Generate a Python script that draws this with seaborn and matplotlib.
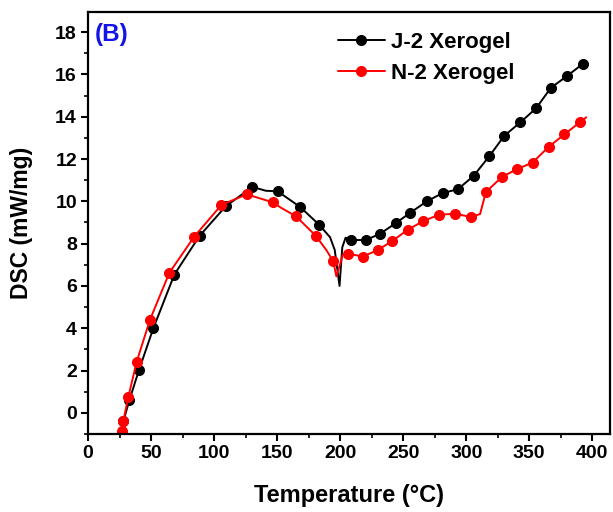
import matplotlib
matplotlib.use("Agg")
import matplotlib.pyplot as plt
import seaborn as sns
import pandas as pd
from matplotlib.ticker import MultipleLocator

# ---- data ----
j2_temp = [26, 28, 32.8, 40.5, 51.8, 68.5, 88.5, 109.3, 130.4, 141, 150.5, 168.3, 183.2,
           192, 195.7, 197.5, 199.5, 201.7, 204.3, 208.7, 220.4, 231.7, 244.2, 255.6,
           268.8, 281.2, 293.4, 305.8, 318.3, 330.2, 342.9, 355.3, 367.2, 379.9, 392.3]
j2_dsc = [-1.1, -0.4, 0.6, 2.04, 4.0, 6.54, 8.37, 9.77, 10.68, 10.5, 10.47, 9.73, 8.9,
          8.3, 7.7, 6.9, 6.0, 7.83, 8.28, 8.17, 8.17, 8.47, 8.97, 9.46,
          10.0, 10.39, 10.57, 11.2, 12.13, 13.1, 13.73, 14.39, 15.37, 15.92, 16.49]
j2_marks = [1, 2, 3, 4, 5, 6, 7, 8, 10, 11, 12, 19, 20, 21, 22, 23, 24, 25, 26,
            27, 28, 29, 30, 31, 32, 33, 34]

n2_temp = [25.5, 26.7, 28, 32, 38.6, 49.2, 64.5, 84, 105.8, 126, 146.6, 153, 165, 180.7,
           189, 194.5, 197, 199.3, 202, 206.6, 218, 229.9, 241.5, 253.7, 266.1, 278.6,
           291.3, 303.7, 311, 315.6, 328.3, 340.2, 352.6, 365.3, 377.8, 390, 395.2]
n2_dsc = [-1.1, -0.85, -0.38, 0.76, 2.42, 4.41, 6.62, 8.31, 9.83, 10.33, 9.95, 9.7, 9.29, 8.37,
          7.7, 7.17, 6.45, 6.9, 7.45, 7.52, 7.39, 7.7, 8.13, 8.66, 9.07, 9.37,
          9.41, 9.26, 9.4, 10.44, 11.15, 11.52, 11.83, 12.57, 13.16, 13.73, 13.97]
n2_marks = [1, 2, 3, 4, 5, 6, 7, 8, 9, 10, 12, 13, 15, 19, 20, 21, 22, 23, 24, 25,
            26, 27, 29, 30, 31, 32, 33, 34, 35]

series_names = ["J-2 Xerogel", "N-2 Xerogel"]
x_ticks = [0, 50, 100, 150, 200, 250, 300, 350, 400]
y_ticks = [0, 2, 4, 6, 8, 10, 12, 14, 16, 18]
panel_label = "(B)"

# ---- style ----
sns.set_theme(style="ticks")
plt.rcParams["font.family"] = ["Liberation Sans", "DejaVu Sans"]
plt.rcParams["font.weight"] = "bold"
for key in ["text.color", "axes.labelcolor", "xtick.color", "ytick.color", "axes.edgecolor"]:
    plt.rcParams[key] = "black"

fig = plt.figure(figsize=(6.13, 5.12), dpi=100)
ax = fig.add_axes([0.1436, 0.1523, 0.8514, 0.8243])

df_j = pd.DataFrame({"Temperature": j2_temp, "DSC": j2_dsc})
df_n = pd.DataFrame({"Temperature": n2_temp, "DSC": n2_dsc})

sns.lineplot(data=df_j, x="Temperature", y="DSC", ax=ax, color="black", lw=1.4,
             marker="o", markersize=7.2, markeredgecolor="black", markevery=j2_marks,
             label=series_names[0], sort=False)
sns.lineplot(data=df_n, x="Temperature", y="DSC", ax=ax, color="#ff0000", lw=1.4,
             marker="o", markersize=7.2, markeredgecolor="#ff0000", markevery=n2_marks,
             label=series_names[1], sort=False)

ax.set_xlim(0, 414)
ax.set_ylim(-1, 18.95)
ax.set_xticks(x_ticks)
ax.set_yticks(y_ticks)
ax.xaxis.set_minor_locator(MultipleLocator(25))
ax.yaxis.set_minor_locator(MultipleLocator(1))
ax.tick_params(which="major", direction="out", length=5, width=1.5, labelsize=14,
               top=False, right=False, pad=3)
ax.tick_params(which="minor", direction="out", length=3, width=1.2, top=False, right=False)
for lab in ax.get_xticklabels() + ax.get_yticklabels():
    lab.set_fontweight("bold")
for sp in ax.spines.values():
    sp.set_linewidth(1.6)
    sp.set_color("black")

ax.set_xlabel("Temperature (°C)", fontsize=17, fontweight="bold", labelpad=16)
ax.set_ylabel("DSC (mW/mg)", fontsize=16.5, fontweight="bold", labelpad=16)

ax.text(0.013, 0.975, panel_label, transform=ax.transAxes, color="#1414e6",
        fontsize=17.5, fontweight="bold", va="top", ha="left")

leg = ax.legend(loc="upper left", bbox_to_anchor=(0.479, 0.952), frameon=False,
                handlelength=2.1, handletextpad=0.3, labelspacing=0.42,
                borderpad=0, borderaxespad=0,
                prop={"weight": "bold", "size": 16})

fig.savefig("out.png", dpi=100)
